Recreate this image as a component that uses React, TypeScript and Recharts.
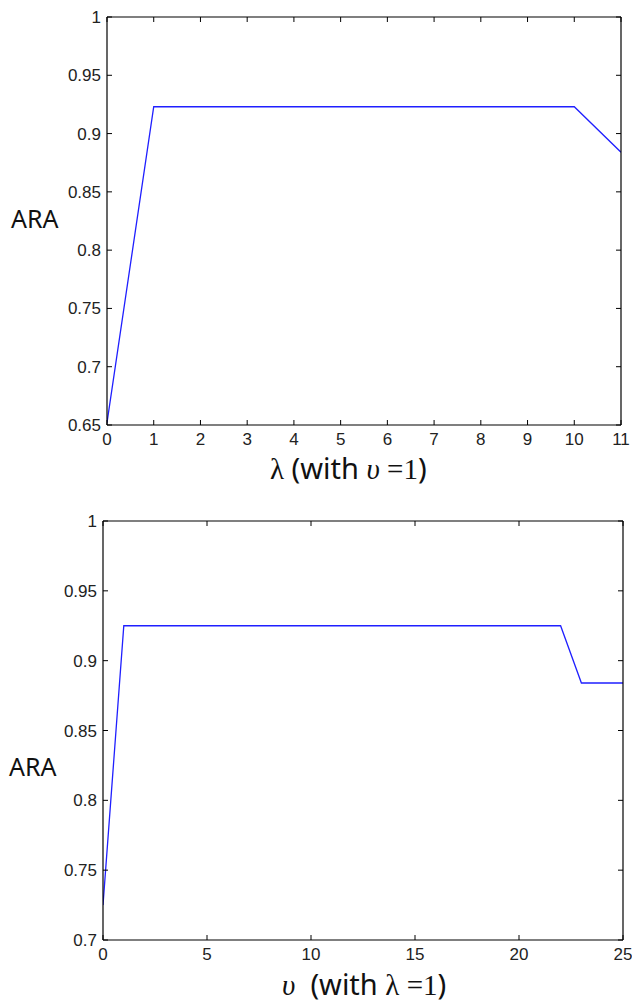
import { LineChart, Line, XAxis, YAxis } from 'recharts';

// top chart: ARA vs lambda (nu = 1)
const lambdaValues = [0, 1, 2, 3, 4, 5, 6, 7, 8, 9, 10, 11];
const araByLambda = [0.652, 0.923, 0.923, 0.923, 0.923, 0.923, 0.923, 0.923, 0.923, 0.923, 0.923, 0.884];
const lambdaTicks = [0, 1, 2, 3, 4, 5, 6, 7, 8, 9, 10, 11];
const araTicksTop = [0.65, 0.7, 0.75, 0.8, 0.85, 0.9, 0.95, 1];

// bottom chart: ARA vs nu (lambda = 1)
const nuValues = [0, 1, 2, 3, 4, 5, 6, 7, 8, 9, 10, 11, 12, 13, 14, 15, 16, 17, 18, 19, 20, 21, 22, 23, 24, 25];
const araByNu = [
  0.725, 0.925, 0.925, 0.925, 0.925, 0.925, 0.925, 0.925, 0.925, 0.925, 0.925, 0.925, 0.925,
  0.925, 0.925, 0.925, 0.925, 0.925, 0.925, 0.925, 0.925, 0.925, 0.925, 0.884, 0.884, 0.884,
];
const nuTicks = [0, 5, 10, 15, 20, 25];
const araTicksBottom = [0.7, 0.75, 0.8, 0.85, 0.9, 0.95, 1];

const lambdaData = lambdaValues.map((x, i) => ({ x, ara: araByLambda[i] }));
const nuData = nuValues.map((x, i) => ({ x, ara: araByNu[i] }));

const tickFont = "'Liberation Sans Narrow', 'Liberation Sans', Arial, sans-serif";
const TICK = 5;

const BottomTick = ({ x, y, payload }: any) => (
  <g>
    <line x1={x} x2={x} y1={y} y2={y - TICK} stroke="#000" />
    <text x={x} y={y + 20} textAnchor="middle" fontSize={17} fontFamily={tickFont} fill="#222">
      {payload.value}
    </text>
  </g>
);
const TopTick = ({ x, y }: any) => <line x1={x} x2={x} y1={y} y2={y + TICK} stroke="#000" />;
const LeftTick = ({ x, y, payload }: any) => (
  <g>
    <line x1={x} x2={x + TICK} y1={y} y2={y} stroke="#000" />
    <text x={x - 6} y={y + 6} textAnchor="end" fontSize={17} fontFamily={tickFont} fill="#222">
      {payload.value}
    </text>
  </g>
);
const RightTick = ({ x, y }: any) => <line x1={x} x2={x - TICK} y1={y} y2={y} stroke="#000" />;

function Panel({ data, xDomain, xTicks, yDomain, yTicks, width, height, margin }: any) {
  const axisLine = { stroke: '#000', strokeWidth: 1.2 };
  return (
    <LineChart width={width} height={height} data={data} margin={margin}>
      <XAxis
        dataKey="x"
        type="number"
        domain={xDomain}
        ticks={xTicks}
        allowDataOverflow
        height={1}
        tickSize={0}
        tickMargin={0}
        axisLine={axisLine}
        tick={<BottomTick />}
        interval={0}
      />
      <XAxis
        xAxisId="top"
        orientation="top"
        dataKey="x"
        type="number"
        domain={xDomain}
        ticks={xTicks}
        allowDataOverflow
        height={1}
        tickSize={0}
        tickMargin={0}
        axisLine={axisLine}
        tick={<TopTick />}
        interval={0}
      />
      <YAxis
        type="number"
        domain={yDomain}
        ticks={yTicks}
        allowDataOverflow
        width={1}
        tickSize={0}
        tickMargin={0}
        axisLine={axisLine}
        tick={<LeftTick />}
        interval={0}
      />
      <YAxis
        yAxisId="right"
        orientation="right"
        type="number"
        domain={yDomain}
        ticks={yTicks}
        allowDataOverflow
        width={1}
        tickSize={0}
        tickMargin={0}
        axisLine={axisLine}
        tick={<RightTick />}
        interval={0}
      />
      <Line
        type="linear"
        dataKey="ara"
        stroke="#1f1fff"
        strokeWidth={1.3}
        dot={false}
        isAnimationActive={false}
      />
    </LineChart>
  );
}

const labelStyle: any = {
  position: 'absolute',
  fontFamily: "'Noto Sans', 'DejaVu Sans', sans-serif",
  color: '#111',
  whiteSpace: 'nowrap',
  lineHeight: 1,
};
const serif = "'Liberation Serif', 'DejaVu Serif', serif";

export default function App() {
  return (
    <div style={{ position: 'absolute', left: 0, top: 0, width: 632, height: 1001, background: '#fff' }}>
      <div style={{ position: 'absolute', left: 0, top: 0 }}>
        <Panel
          data={lambdaData}
          xDomain={[0, 11]}
          xTicks={lambdaTicks}
          yDomain={[0.65, 1]}
          yTicks={araTicksTop}
          width={632}
          height={490}
          margin={{ top: 16, right: 10, bottom: 64, left: 106 }}
        />
      </div>
      <div style={{ ...labelStyle, left: 11, top: 206, fontSize: 25 }}>ARA</div>
      <div style={{ ...labelStyle, left: 270, top: 453, fontSize: 29 }}>
        <span style={{ fontFamily: serif }}>λ</span>&nbsp;(with&nbsp;
        <span style={{ fontFamily: serif, fontStyle: 'italic' }}>υ</span>
        <span style={{ fontFamily: serif }}>&nbsp;=1</span>)
      </div>

      <div style={{ position: 'absolute', left: 0, top: 490 }}>
        <Panel
          data={nuData}
          xDomain={[0, 25]}
          xTicks={nuTicks}
          yDomain={[0.7, 1]}
          yTicks={araTicksBottom}
          width={632}
          height={511}
          margin={{ top: 30, right: 8, bottom: 60, left: 102 }}
        />
      </div>
      <div style={{ ...labelStyle, left: 9, top: 754, fontSize: 25 }}>ARA</div>
      <div style={{ ...labelStyle, left: 282, top: 969, fontSize: 29 }}>
        <span style={{ fontFamily: serif, fontStyle: 'italic' }}>υ</span>&nbsp;&nbsp;(with&nbsp;
        <span style={{ fontFamily: serif }}>λ</span>
        <span style={{ fontFamily: serif }}>&nbsp;=1</span>)
      </div>
    </div>
  );
}
